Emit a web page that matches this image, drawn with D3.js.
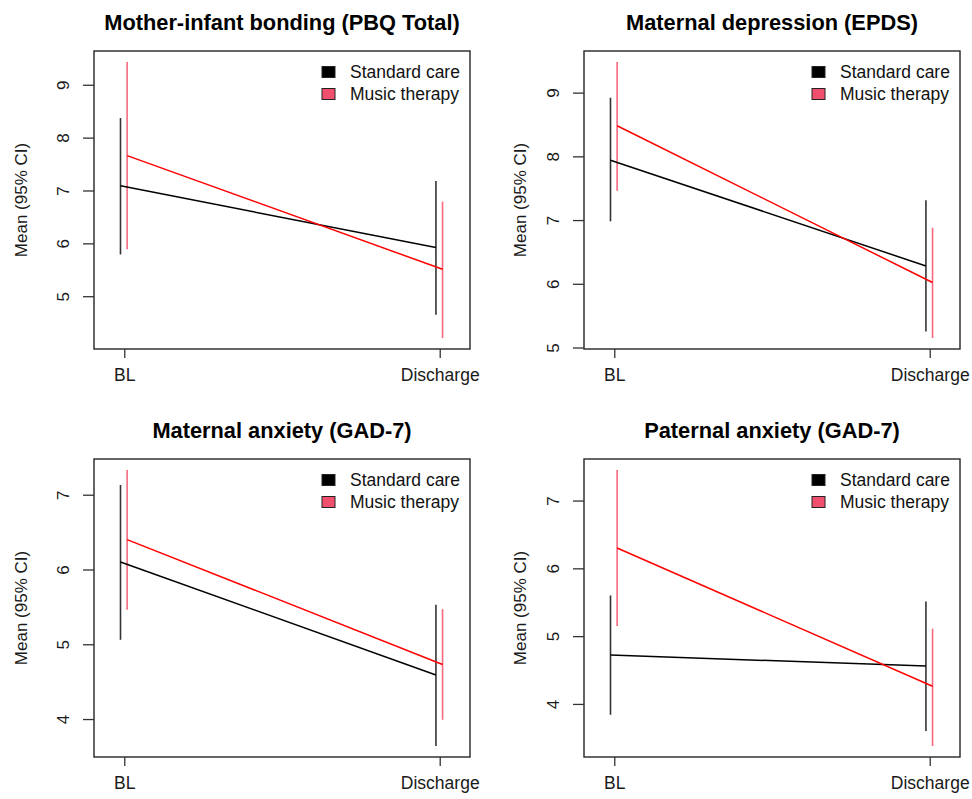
<!DOCTYPE html>
<html>
<head>
<meta charset="utf-8">
<script src="https://cdn.jsdelivr.net/npm/d3@7"></script>
<style>
  body { margin: 0; background: #fff; }
  svg text { font-family: "Liberation Sans", Arial, sans-serif; }
</style>
</head>
<body>
<div id="chart"></div>
<script>
// data
const timepoints = ["BL", "Discharge"];
const groups = ["Standard care", "Music therapy"];
const titles = [
  "Mother-infant bonding (PBQ Total)",
  "Maternal depression (EPDS)",
  "Maternal anxiety (GAD-7)",
  "Paternal anxiety (GAD-7)"
];

// one row per panel, one value per timepoint
const stdMean  = [[7.09, 5.92], [7.94, 6.28], [6.10, 4.59], [4.72, 4.56]];
const stdLower = [[5.79, 4.65], [6.98, 5.25], [5.06, 3.64], [3.84, 3.60]];
const stdUpper = [[8.37, 7.18], [8.92, 7.31], [7.13, 5.53], [5.60, 5.51]];

const musMean  = [[7.66, 5.51], [8.48, 6.02], [6.40, 4.73], [6.30, 4.26]];
const musLower = [[5.89, 4.21], [7.46, 5.15], [5.46, 3.99], [5.15, 3.38]];
const musUpper = [[9.43, 6.79], [9.48, 6.88], [7.33, 5.47], [7.45, 5.11]];

const yTicks = [[5, 6, 7, 8, 9], [5, 6, 7, 8, 9], [4, 5, 6, 7], [4, 5, 6, 7]];

const W = 972, H = 799;
const svg = d3.select('#chart').append('svg')
  .attr('width', W).attr('height', H);

// plot box positions (left, top) for each panel
const boxW = 376, boxH = 298;
const boxes = [
  { x: 94,  y: 51,  yl: 73 },
  { x: 584, y: 51,  yl: 64 },
  { x: 94,  y: 459, yl: 73 },
  { x: 584, y: 459, yl: 64 }
];

const colStd = "#000000", colMus = "#ff0000";
const ciStd = "#333333", ciMus = "#f7687f";

boxes.forEach((b, p) => {
  const g = svg.append('g').attr('transform', `translate(${b.x},${b.y})`);

  // R style y range: extent of CIs + 4%
  const lo = d3.min(stdLower[p].concat(musLower[p]));
  const hi = d3.max(stdUpper[p].concat(musUpper[p]));
  const pad = (hi - lo) * 0.04;
  const y = d3.scaleLinear().domain([lo - pad, hi + pad]).range([boxH, 0]);
  const x = d3.scaleLinear().domain([0.904, 2.096]).range([0, boxW]);

  // title
  g.append('text')
    .attr('x', boxW / 2).attr('y', -21)
    .attr('text-anchor', 'middle')
    .attr('font-size', '21.8px').attr('font-weight', 'bold')
    .text(titles[p]);

  // y axis
  const ya = g.append('g')
    .call(d3.axisLeft(y).tickValues(yTicks[p]).tickSize(11).tickFormat(d3.format('d')));
  ya.select('.domain').remove();
  ya.selectAll('line').attr('stroke', '#333').attr('stroke-width', 1.3);
  ya.selectAll('text')
    .attr('font-size', '17px').attr('fill', '#1a1a1a')
    .attr('x', 0).attr('y', -31).attr('dy', '0.35em')
    .attr('text-anchor', 'middle')
    .attr('transform', 'rotate(-90)');

  g.append('text')
    .attr('transform', `translate(${-b.yl},${boxH / 2}) rotate(-90)`)
    .attr('dy', '0.35em')
    .attr('text-anchor', 'middle')
    .attr('font-size', '17px').attr('fill', '#1a1a1a')
    .text('Mean (95% CI)');

  // x axis
  const xa = g.append('g').attr('transform', `translate(0,${boxH})`)
    .call(d3.axisBottom(x).tickValues([1, 2]).tickSize(9)
      .tickFormat((d, i) => timepoints[i]));
  xa.select('.domain').remove();
  xa.selectAll('line').attr('stroke', '#333').attr('stroke-width', 1.3);
  xa.selectAll('text')
    .attr('font-size', '17.5px').attr('fill', '#1a1a1a')
    .attr('y', 26).attr('dy', '0.35em');

  // box
  g.append('rect')
    .attr('width', boxW).attr('height', boxH)
    .attr('fill', 'none').attr('stroke', '#333').attr('stroke-width', 1.5);

  const series = [
    { mean: stdMean[p], lower: stdLower[p], upper: stdUpper[p], off: -0.012, line: colStd, ci: ciStd },
    { mean: musMean[p], lower: musLower[p], upper: musUpper[p], off: 0.009, line: colMus, ci: ciMus }
  ];

  series.forEach(s => {
    // CI whiskers
    g.selectAll(null)
      .data(timepoints)
      .enter().append('line')
      .attr('x1', (d, i) => x(i + 1 + s.off))
      .attr('x2', (d, i) => x(i + 1 + s.off))
      .attr('y1', (d, i) => y(s.lower[i]))
      .attr('y2', (d, i) => y(s.upper[i]))
      .attr('stroke', s.ci).attr('stroke-width', 1.6);
  });

  series.forEach(s => {
    const line = d3.line()
      .x((d, i) => x(i + 1 + s.off))
      .y(d => y(d));
    g.append('path')
      .datum(s.mean)
      .attr('d', line)
      .attr('fill', 'none')
      .attr('stroke', s.line).attr('stroke-width', 1.5);
  });

  // legend
  const lg = g.append('g').attr('transform', `translate(${boxW - 148},${21})`);
  groups.forEach((name, i) => {
    lg.append('rect')
      .attr('x', 0).attr('y', i * 22 - 5.5)
      .attr('width', 13).attr('height', 11)
      .attr('fill', i === 0 ? '#000' : '#f0506e')
      .attr('stroke', '#222').attr('stroke-width', 1);
    lg.append('text')
      .attr('x', 28).attr('y', i * 22)
      .attr('dy', '0.35em')
      .attr('font-size', '17.5px').attr('fill', '#111')
      .text(name);
  });
});
</script>
</body>
</html>
